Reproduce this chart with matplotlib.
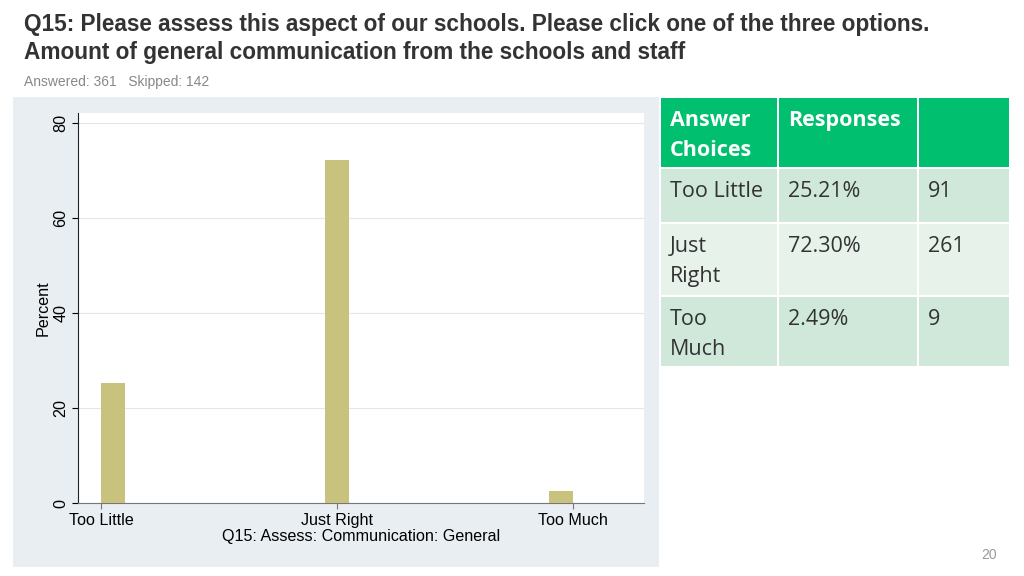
import matplotlib
matplotlib.use("Agg")
import matplotlib.pyplot as plt
from matplotlib.patches import Rectangle
import numpy as np

categories = ["Too Little", "Just Right", "Too Much"]
percents = [25.21, 72.30, 2.49]
counts = [91, 261, 9]
table_labels = ["Too Little", "Just\nRight", "Too\nMuch"]

W, H = 1024, 576
fig = plt.figure(figsize=(10.24, 5.76), dpi=100)
fig.patch.set_facecolor("white")

def px(x, y):
    return x / W, 1 - y / H

# header text
fig.text(*px(24, 25), "Q15: Please assess this aspect of our schools. Please click one of the three options.",
         fontsize=16.3, fontweight="bold", color="#333333", family="Liberation Sans", va="center")
fig.text(*px(24, 52), "Amount of general communication from the schools and staff",
         fontsize=16.3, fontweight="bold", color="#333333", family="Liberation Sans", va="center")
fig.text(*px(24, 82), "Answered: 361   Skipped: 142", fontsize=10, color="#888888",
         family="Liberation Sans", va="center")

# stata-like panel
fig.patches.append(Rectangle(px(13, 567), (659 - 13) / W, (567 - 97) / H,
                             transform=fig.transFigure, facecolor="#e8eef2", edgecolor="none", zorder=-5))

ax = fig.add_axes([78 / W, (576 - 503) / H, (644 - 78) / W, (503 - 113) / H])
ax.set_zorder(2)
ax.set_facecolor("white")
x = np.arange(len(categories))
w = 0.107
fs = 11.6
ax.bar(x, percents, width=w, color="#c9c27f", zorder=3)
ax.set_xlim(-0.156, 2.37)
ax.set_ylim(0, 82.1)
ax.set_yticks([0, 20, 40, 60, 80])
ax.set_yticklabels(["0", "20", "40", "60", "80"], rotation=90, va="center",
                   fontsize=fs, family="Liberation Sans")
ax.set_xticks(x + (x - 1) * w / 2)
ax.set_xticklabels(categories, fontsize=fs, family="Liberation Sans")
ax.grid(axis="y", color="#e6e6e6", linewidth=0.8, zorder=0)
for s in ["top", "right"]:
    ax.spines[s].set_visible(False)
ax.spines["left"].set_color("#222222")
ax.spines["bottom"].set_color("#777777")
ax.tick_params(axis="both", length=4, width=0.8, pad=3)
ax.tick_params(axis="x", colors="#777777", labelcolor="black")
ax.set_ylabel("Percent", fontsize=fs, family="Liberation Sans", labelpad=2)
ax.set_xlabel("Q15: Assess: Communication: General", fontsize=fs,
              family="Liberation Sans", labelpad=1)

# table
col_x = [661, 777, 917, 1009]
row_y = [98, 167, 222, 295, 366]
header = ["Answer\nChoices", "Responses", ""]
row_colors = ["#cfe8d9", "#e6f2ea", "#cfe8d9"]
gap = 2
for r in range(4):
    for c in range(3):
        x0, x1 = col_x[c] + (gap if c else 0), col_x[c + 1]
        y0, y1 = row_y[r] + (gap if r else 0), row_y[r + 1]
        color = "#00bf6f" if r == 0 else row_colors[r - 1]
        fig.patches.append(Rectangle(px(x0, y1), (x1 - x0) / W, (y1 - y0) / H,
                                     transform=fig.transFigure, facecolor=color,
                                     edgecolor="none", zorder=1))
        if r == 0:
            txt, col, fw = header[c], "white", "bold"
        else:
            txt = [table_labels[r - 1], f"{percents[r - 1]:.2f}%", str(counts[r - 1])][c]
            col, fw = "#333333", "normal"
        fig.text(*px(x0 + 9, y0 + 12), txt, fontsize=15.5, color=col, fontweight=fw,
                 family="Open Sans", va="top", ha="left", linespacing=1.55, zorder=2)

fig.text(*px(989, 555), "20", fontsize=10, color="#999999", ha="center", va="center",
         family="Liberation Sans")

fig.savefig("out.png", dpi=100)
